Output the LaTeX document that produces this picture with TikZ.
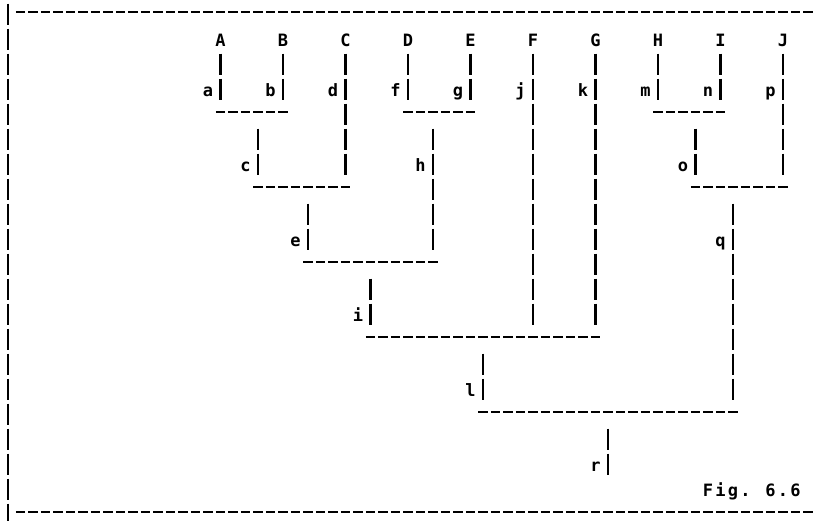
\documentclass[tikz,border=0pt]{standalone}
\usepackage{fontspec}
\newfontfamily\lgfont{DejaVu Sans Mono}
\newcommand\mch[1]{\makebox[12.5pt]{#1}}
\tikzset{
  lbl/.style={inner sep=0pt, outer sep=0pt, anchor=base,
    font=\lgfont\bfseries\fontsize{17}{20}\selectfont},
  vbar/.style={line width=2.6pt, dash pattern=on 21pt off 4pt, shorten >=12.5pt},
  fromleaf/.style={vbar, shorten <=7.5pt},
  fromjoin/.style={vbar, shorten <=16.5pt},
  hbar/.style={line width=2.6pt, dash pattern=on 9.3pt off 3.2pt,
    shorten <=-4.65pt, shorten >=-4.65pt},
  border/.style={line width=2.6pt, dash pattern=on 21pt off 4pt},
}
\begin{document}
\begin{tikzpicture}[x=1pt,y=-1pt]
\fill[white] (0,0) rectangle (817,520);
\useasboundingbox (0,0) rectangle (817,520);

% frame
\coordinate (tl) at (20.5,12);
\coordinate (tr) at (808,12);
\coordinate (bl) at (20.5,512);
\coordinate (br) at (808,512);
\coordinate (lt) at (8,3.5);
\coordinate (lb) at (8,524.5);
\draw[hbar] (tl) -- (tr);
\draw[hbar] (bl) -- (br);
\draw[border] (lt) -- (lb);

% leaves
\node[lbl] (A) at (220.5,46) {A};
\node[lbl] (B) at (283,46) {B};
\node[lbl] (C) at (345.5,46) {C};
\node[lbl] (D) at (408,46) {D};
\node[lbl] (E) at (470.5,46) {E};
\node[lbl] (F) at (533,46) {F};
\node[lbl] (G) at (595.5,46) {G};
\node[lbl] (H) at (658,46) {H};
\node[lbl] (I) at (720.5,46) {I};
\node[lbl] (J) at (783,46) {J};

% junctions
\coordinate (ab-L) at (220.5,112); \coordinate (ab-M) at (258,112); \coordinate (ab-R) at (283,112);
\coordinate (cd-L) at (258,187);   \coordinate (cd-M) at (308,187); \coordinate (cd-R) at (345.5,187);
\coordinate (fg-L) at (408,112);   \coordinate (fg-M) at (433,112); \coordinate (fg-R) at (470.5,112);
\coordinate (eh-L) at (308,262);   \coordinate (eh-M) at (370.5,262); \coordinate (eh-R) at (433,262);
\coordinate (ijk-L) at (370.5,337); \coordinate (ijk-F) at (533,337); \coordinate (ijk-M) at (483,337); \coordinate (ijk-R) at (595.5,337);
\coordinate (mn-L) at (658,112);   \coordinate (mn-M) at (695.5,112); \coordinate (mn-R) at (720.5,112);
\coordinate (op-L) at (695.5,187); \coordinate (op-M) at (733,187); \coordinate (op-R) at (783,187);
\coordinate (lq-L) at (483,412);   \coordinate (lq-M) at (608,412); \coordinate (lq-R) at (733,412);
\coordinate (r-end) at (608,474.5);

% horizontal bars
\draw[hbar] (ab-L) -- (ab-R);
\draw[hbar] (cd-L) -- (cd-R);
\draw[hbar] (fg-L) -- (fg-R);
\draw[hbar] (eh-L) -- (eh-R);
\draw[hbar] (ijk-L) -- (ijk-R);
\draw[hbar] (mn-L) -- (mn-R);
\draw[hbar] (op-L) -- (op-R);
\draw[hbar] (lq-L) -- (lq-R);

% vertical bars from leaves
\draw[fromleaf] (A.base) -- (ab-L);
\draw[fromleaf] (B.base) -- (ab-R);
\draw[fromleaf] (C.base) -- (cd-R);
\draw[fromleaf] (D.base) -- (fg-L);
\draw[fromleaf] (E.base) -- (fg-R);
\draw[fromleaf] (F.base) -- (ijk-F);
\draw[fromleaf] (G.base) -- (ijk-R);
\draw[fromleaf] (H.base) -- (mn-L);
\draw[fromleaf] (I.base) -- (mn-R);
\draw[fromleaf] (J.base) -- (op-R);

% vertical bars from junctions
\draw[fromjoin] (ab-M) -- (cd-L);
\draw[fromjoin] (cd-M) -- (eh-L);
\draw[fromjoin] (fg-M) -- (eh-R);
\draw[fromjoin] (eh-M) -- (ijk-L);
\draw[fromjoin] (ijk-M) -- (lq-L);
\draw[fromjoin] (mn-M) -- (op-L);
\draw[fromjoin] (op-M) -- (lq-R);
\draw[fromjoin, shorten >=0pt] (lq-M) -- (r-end);

% edge labels
\node[lbl] (a) at (208,96) {a};
\node[lbl] (b) at (270.5,96) {b};
\node[lbl] (d) at (333,96) {d};
\node[lbl] (f) at (395.5,96) {f};
\node[lbl] (g) at (458,96) {g};
\node[lbl] (j) at (520.5,96) {j};
\node[lbl] (k) at (583,96) {k};
\node[lbl] (m) at (645.5,96) {m};
\node[lbl] (n) at (708,96) {n};
\node[lbl] (p) at (770.5,96) {p};
\node[lbl] (c) at (245.5,171) {c};
\node[lbl] (h) at (420.5,171) {h};
\node[lbl] (o) at (683,171) {o};
\node[lbl] (e) at (295.5,246) {e};
\node[lbl] (q) at (720.5,246) {q};
\node[lbl] (i) at (358,321) {i};
\node[lbl] (l) at (470.5,396) {l};
\node[lbl] (r) at (595.5,471) {r};

% caption
\node[lbl, anchor=base west] (fig) at (701.75,496)
  {\mch{F}\mch{i}\mch{g}\mch{.}\mch{ }\mch{6}\mch{.}\mch{6}};
\end{tikzpicture}
\end{document}
